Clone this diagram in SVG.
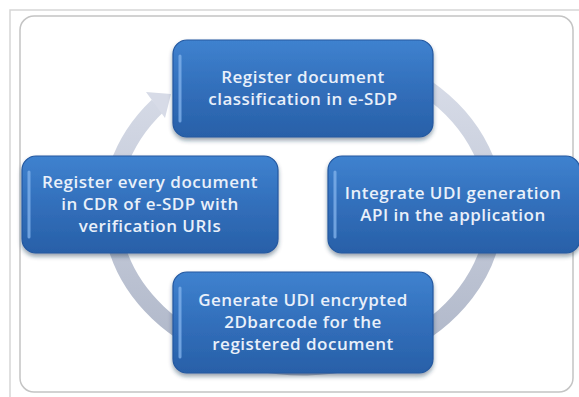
<svg xmlns="http://www.w3.org/2000/svg" width="579" height="397" viewBox="0 0 579 397">
  <defs>
    <linearGradient id="boxGrad" x1="0" y1="0" x2="0" y2="1">
      <stop offset="0" stop-color="#3f82cf"/>
      <stop offset="0.5" stop-color="#326fbb"/>
      <stop offset="1" stop-color="#2860a8"/>
    </linearGradient>
    <linearGradient id="ringGrad" gradientUnits="userSpaceOnUse" x1="0" y1="40" x2="0" y2="370">
      <stop offset="0" stop-color="#dde1ec"/>
      <stop offset="1" stop-color="#adb5c7"/>
    </linearGradient>
    <filter id="shadow" x="-10%" y="-10%" width="120%" height="130%">
      <feDropShadow dx="0" dy="3" stdDeviation="2" flood-color="#1b3050" flood-opacity="0.45"/>
    </filter>
  </defs>
  <style>
    .frame { fill: #ffffff; stroke: #c4c4c4; stroke-width: 1.5; }
    .box { fill: url(#boxGrad); stroke: #2458a0; stroke-width: 1.2; filter: url(#shadow); }
    .hl { fill: none; stroke: #7fb0ea; stroke-width: 3; stroke-linecap: round; opacity: 0.8; }
    .lbl { font-family: "Open Sans", "Noto Sans", "Liberation Sans", sans-serif; font-size: 17px; font-weight: 600; letter-spacing: 0.5px; fill: #e9f0fa; text-anchor: middle; }
    .ring { fill: none; stroke: url(#ringGrad); stroke-width: 17; }
  </style>

  <rect x="0" y="0" width="579" height="397" fill="#ffffff"/>
  <path d="M10 397 V10 H579" fill="none" stroke="#d6d6d6" stroke-width="1.5"/>
  <rect class="frame" x="20" y="16" width="553" height="376" rx="14"/>

  <g id="connectors">
    <path class="ring" d="M 269.7 53.4 A 192 158 0 1 1 157.6 105.8"/>
    <polygon points="171,94 165,118 146,92" fill="#d7dbe7"/>
  </g>

  <g id="node-top">
    <rect class="box" x="173" y="40" width="260" height="97" rx="14"/>
    <path class="hl" d="M180 56 V121"/>
    <text class="lbl" x="303" y="83">Register document</text>
    <text class="lbl" x="303" y="105">classification in e-SDP</text>
  </g>

  <g id="node-right">
    <rect class="box" x="328" y="156" width="252" height="97" rx="14"/>
    <path class="hl" d="M335 172 V237"/>
    <text class="lbl" x="453" y="199">Integrate UDI generation</text>
    <text class="lbl" x="453" y="221">API in the application</text>
  </g>

  <g id="node-bottom">
    <rect class="box" x="173" y="272" width="260" height="101" rx="14"/>
    <path class="hl" d="M180 288 V357"/>
    <text class="lbl" x="303" y="306">Generate UDI encrypted</text>
    <text class="lbl" x="303" y="328">2Dbarcode for the</text>
    <text class="lbl" x="303" y="350">registered document</text>
  </g>

  <g id="node-left">
    <rect class="box" x="22" y="156" width="256" height="97" rx="14"/>
    <path class="hl" d="M29 172 V237"/>
    <text class="lbl" x="150" y="188">Register every document</text>
    <text class="lbl" x="150" y="210">in CDR of e-SDP with</text>
    <text class="lbl" x="150" y="232">verification URIs</text>
  </g>
</svg>
